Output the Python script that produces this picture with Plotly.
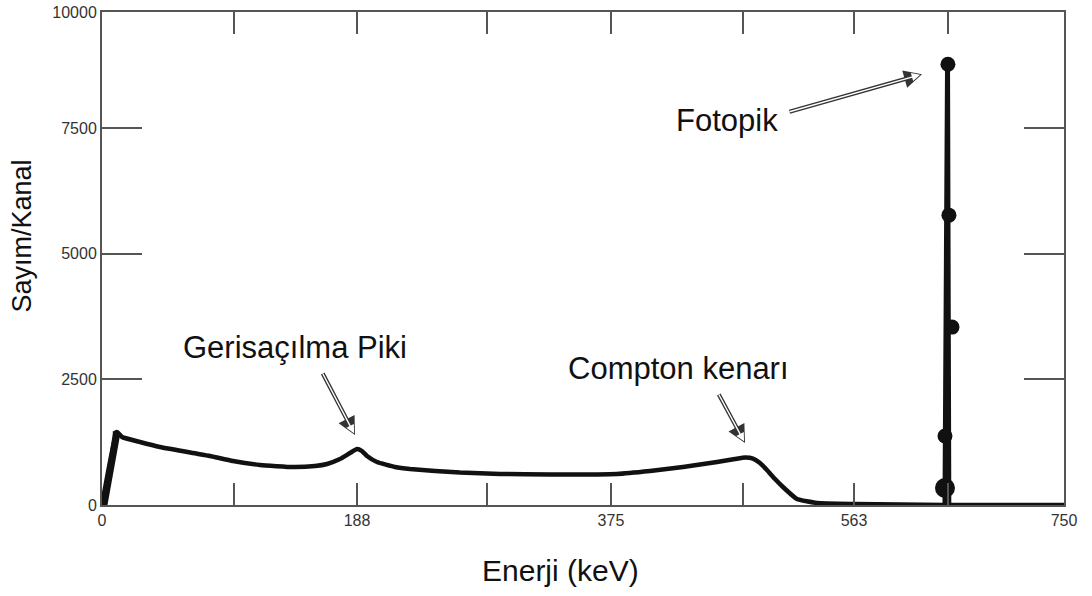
import plotly.graph_objects as go

# Continuum of the spectrum (x in axis units, y in counts/channel)
spec_x = [11.7, 15.6, 29.6, 45.2, 70.9, 84.2, 102.1, 123.2, 148.9, 166.1, 175.4, 185.5,
          193.3, 198.8, 202.7, 206.6, 214.4, 228.4, 240.1, 279.1, 310.3, 349.3, 401.5,
          427.2, 453.0, 479.5, 493.5, 501.3, 507.5, 513.0, 518.4, 524.7, 530.9, 541.8,
          557.4, 586.3, 622.1, 657.2, 750.0]
spec_y = [1452, 1353, 1253, 1154, 1034, 975, 875, 796, 756, 776, 816, 915,
          1034, 1114, 1074, 975, 855, 756, 716, 646, 617, 607, 617,
          676, 756, 855, 915, 945, 925, 835, 696, 517, 358, 119,
          40, 20, 10, 0, 0]

# Low-energy rise
rise_x = [0.0, 3.5, 13.5, 11.0, 8.5]
rise_y = [0, 0, 1420, 1475, 1440]

# Photopeak line and its measured points
peak_line_x = [657.2, 659.2, 660.2]
peak_line_y = [0, 8770, 0]
peak_pts_x = [657.2, 657.2, 662.7, 660.3, 659.5]
peak_pts_y = [338, 1372, 3540, 5768, 8770]
peak_pts_size = [20, 15, 15, 15, 15]

# Axis ticks
x_tickvals = [0, 102.9, 198.8, 300.2, 396.8, 499.7, 586.3, 659.6, 750]
x_ticktext = ["0", "", "188", "", "375", "", "563", "", "750"]
y_tickvals = [0, 2500, 5000, 7500, 9811]
y_ticktext = ["0", "2500", "5000", "7500", "10000"]

LINE = "#111111"
AX = "#555555"
FONT = "Liberation Sans, Arial, sans-serif"

fig = go.Figure()
fig.add_trace(go.Scatter(x=rise_x, y=rise_y, mode="lines", fill="toself",
                         fillcolor=LINE, line=dict(color=LINE, width=2),
                         hoverinfo="skip", showlegend=False))
fig.add_trace(go.Scatter(x=[0.0] + spec_x, y=[0] + spec_y, mode="lines",
                         line=dict(color=LINE, width=4.5, shape="spline", smoothing=0.4),
                         showlegend=False))
fig.add_trace(go.Scatter(x=peak_line_x, y=peak_line_y, mode="lines",
                         line=dict(color=LINE, width=5), showlegend=False))
fig.add_trace(go.Scatter(x=peak_pts_x, y=peak_pts_y, mode="markers",
                         marker=dict(color=LINE, size=peak_pts_size, opacity=1,
                                     line=dict(width=0)),
                         cliponaxis=False, showlegend=False))

annotations = []
# hollow arrows: dark outline + white core
arrows = [
    (639.3, 8573, -134, 38),
    (197.2, 1392, -33, -63),
    (501.3, 1233, -27, -50),
]
for (x, y, ax, ay) in arrows:
    annotations.append(dict(x=x, y=y, xref="x", yref="y", ax=ax, ay=ay, text="",
                            showarrow=True, arrowhead=2, arrowsize=0.9,
                            arrowwidth=4, arrowcolor="#333333", standoff=0))
    annotations.append(dict(x=x, y=y, xref="x", yref="y", ax=ax, ay=ay, text="",
                            showarrow=True, arrowhead=2, arrowsize=1.2,
                            arrowwidth=1.4, arrowcolor="white", standoff=2))

labels = [
    ("Fotopik", 487.3, 7658),
    ("Gerisaçılma Piki", 150.5, 3143),
    ("Compton kenarı", 449.8, 2725),
]
for (t, x, y) in labels:
    annotations.append(dict(x=x, y=y, xref="x", yref="y", text=t, showarrow=False,
                            xanchor="center", yanchor="middle",
                            font=dict(family=FONT, size=31, color="#111111")))

annotations.append(dict(x=0.477, y=-0.132, xref="paper", yref="paper",
                        text="Enerji (keV)", showarrow=False,
                        xanchor="center", yanchor="middle",
                        font=dict(family=FONT, size=30, color="#111111")))
annotations.append(dict(x=-0.083, y=0.545, xref="paper", yref="paper",
                        text="Sayım/Kanal", showarrow=False, textangle=-90,
                        xanchor="center", yanchor="middle",
                        font=dict(family=FONT, size=27, color="#111111")))

fig.update_layout(
    width=1092, height=596,
    margin=dict(l=102, r=28, t=12, b=91, autoexpand=False),
    paper_bgcolor="white", plot_bgcolor="white",
    annotations=annotations,
    showlegend=False,
)
fig.update_xaxes(range=[0, 750], tickvals=x_tickvals, ticktext=x_ticktext,
                 ticks="inside", ticklen=22, tickwidth=2, tickcolor=AX,
                 showline=True, linewidth=2, linecolor=AX, mirror="ticks",
                 showgrid=False, zeroline=False, automargin=False,
                 ticklabeloverflow="allow",
                 tickfont=dict(family=FONT, size=16, color="#333333"))
fig.update_yaxes(range=[0, 9811], tickvals=y_tickvals, ticktext=y_ticktext,
                 ticks="inside", ticklen=40, tickwidth=2, tickcolor=AX,
                 showline=True, linewidth=2, linecolor=AX, mirror="ticks",
                 showgrid=False, zeroline=False, automargin=False,
                 ticklabeloverflow="allow",
                 tickfont=dict(family=FONT, size=16, color="#333333"))

fig.write_html("out.html",
               config={"displayModeBar": False},
               post_script="document.body.style.margin='0px';document.body.style.overflow='hidden';")
